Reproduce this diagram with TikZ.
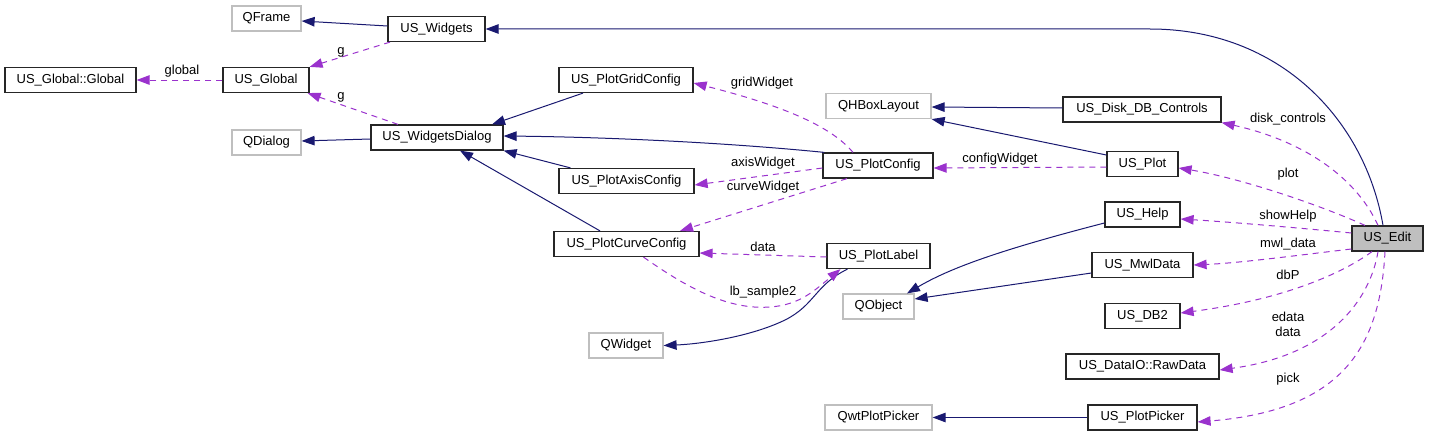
\documentclass[tikz,border=0pt]{standalone}
\usepackage{fontspec}
\setmainfont{Liberation Sans}
\usetikzlibrary{arrows.meta}
\definecolor{navy}{HTML}{191970}
\definecolor{orch}{HTML}{9A32CD}
\definecolor{gbd}{HTML}{BFBFBF}
\definecolor{efill}{HTML}{BFBFBF}
\tikzset{
  box/.style={draw=black!85, line width=1.2pt, minimum height=25pt, inner sep=0pt, font=\fontsize{13}{15}\selectfont, fill=white},
  gbox/.style={box, draw=gbd},
  inh/.style={draw=navy, line width=1pt, -{Triangle[length=13pt,width=9.5pt]}},
  mem/.style={draw=orch, line width=1pt, dash pattern=on 6pt off 5pt, -{Triangle[length=13pt,width=9.5pt,sep=0pt]}},
  lbl/.style={inner sep=0pt, font=\fontsize{13}{15}\selectfont}
}
\begin{document}
\begin{tikzpicture}[x=1pt,y=-1pt]
\useasboundingbox (0,0) rectangle (1429,436);
% nodes
\node[gbox, minimum width=69pt] (qframe) at (266.5,18.5) {QFrame};
\node[box, minimum width=97pt] (wdg) at (436.5,29) {US\_Widgets};
\node[box, minimum width=131pt] (gg) at (70.5,80) {US\_Global::Global};
\node[box, minimum width=86pt] (glob) at (266,80) {US\_Global};
\node[gbox, minimum width=69pt] (qdialog) at (266.5,142.5) {QDialog};
\node[box, minimum width=132pt] (wd) at (437,137.5) {US\_WidgetsDialog};
\node[box, minimum width=134pt] (pgc) at (626,80) {US\_PlotGridConfig};
\node[gbox, minimum width=105pt] (qhb) at (878.5,106) {QHBoxLayout};
\node[box, minimum width=110pt] (pc) at (878,165.5) {US\_PlotConfig};
\node[box, minimum width=135pt] (pac) at (626.5,181) {US\_PlotAxisConfig};
\node[box, minimum width=145pt] (pcc) at (626.5,244) {US\_PlotCurveConfig};
\node[box, minimum width=103pt] (pl) at (878.5,256) {US\_PlotLabel};
\node[gbox, minimum width=71pt] (qobject) at (878.5,306.5) {QObject};
\node[gbox, minimum width=74pt] (qwidget) at (626,345.5) {QWidget};
\node[gbox, minimum width=107pt] (qwt) at (878.5,417.5) {QwtPlotPicker};
\node[box, minimum width=158pt] (ddc) at (1142,109.5) {US\_Disk\_DB\_Controls};
\node[box, minimum width=71pt] (plot) at (1142.5,164) {US\_Plot};
\node[box, minimum width=75pt] (help) at (1142.5,214.5) {US\_Help};
\node[box, minimum width=71pt, fill=efill] (edit) at (1387.5,238.5) {US\_Edit};
\node[box, minimum width=101pt] (mwl) at (1142.5,265) {US\_MwlData};
\node[box, minimum width=75pt] (db2) at (1142.5,316) {US\_DB2};
\node[box, minimum width=153pt] (raw) at (1142.5,366.5) {US\_DataIO::RawData};
\node[box, minimum width=109pt] (ppk) at (1142.5,417.5) {US\_PlotPicker};
% inheritance edges
\draw[inh] ([yshift=3pt]wdg.west) -- ([yshift=-2.5pt]qframe.east);
\draw[inh] ([xshift=-4.5pt]edit.north) .. controls (1365,120) and (1280,29) .. (1150,29) -- (wdg.east);
\draw[inh] ([yshift=-1.5pt]wd.west) -- ([yshift=1.5pt]qdialog.east);
\draw[inh] ([xshift=-43pt]pgc.south) -- ([xshift=55pt]wd.north);
\draw[inh] ([xshift=2pt]pc.north west) .. controls (720,142) and (600,137) .. ([yshift=1.5pt]wd.east);
\draw[inh] ([xshift=-56pt]pac.north) -- (wd.south east);
\draw[inh] ([xshift=-26.5pt]pcc.north) -- ([xshift=23pt]wd.south);
\draw[inh] ([yshift=9pt]plot.west) -- (qhb.south east);
\draw[inh] ([yshift=1.5pt]ddc.west) -- ([yshift=-1pt]qhb.east);
\draw[inh] ([yshift=-8.5pt]help.west) .. controls (1000,250) and (950,268) .. ([xshift=28.5pt]qobject.north);
\draw[inh] ([yshift=-8pt]mwl.west) -- ([yshift=7.5pt]qobject.east);
\draw[inh] ([xshift=-31pt]pl.south) .. controls (815,285) and (815,305) .. (785,320) .. controls (750,337) and (700,344) .. (qwidget.east);
\draw[inh] (ppk.west) -- (qwt.east);
% member edges
\draw[mem] ([xshift=-46.5pt]wdg.south) -- (glob.north east);
\node[lbl] (lg1) at (341,52) {g};
\draw[mem] (glob.west) -- (gg.east);
\node[lbl] (lglobal) at (182,71) {global};
\draw[mem] ([xshift=-39pt]wd.north) -- ([xshift=-2pt]glob.south east);
\node[lbl] (lg2) at (341,97) {g};
\draw[mem] ([xshift=-25pt]pc.north) .. controls (830,125) and (780,105) .. ([yshift=-3pt]pgc.east);
\node[lbl] (lgrid) at (762,83) {gridWidget};
\draw[mem] ([yshift=-2.5pt]pc.west) -- ([yshift=-4pt]pac.east);
\node[lbl] (laxis) at (763,163) {axisWidget};
\draw[mem] ([xshift=-31pt]pc.south) -- ([xshift=53.5pt]pcc.north);
\node[lbl] (lcurve) at (763,187) {curveWidget};
\draw[mem] ([yshift=-1pt]pl.west) -- ([yshift=-9pt]pcc.east);
\node[lbl] (ldata) at (763,247) {data};
\draw[mem] ([xshift=17pt]pcc.south) .. controls (690,290) and (730,310) .. (770,307) .. controls (800,305) and (815,290) .. ([xshift=-38pt]pl.south);
\node[lbl] (llb) at (763,292) {lb\_sample2};
\draw[mem] ([yshift=-3pt]plot.west) -- ([yshift=-2.5pt]pc.east);
\node[lbl] (lconf) at (1000,159) {configWidget};
\draw[mem] ([xshift=-9.5pt]edit.north) .. controls (1355,175) and (1300,140) .. (ddc.south east);
\node[lbl] (ldisk) at (1288,119) {disk\_controls};
\draw[mem] ([xshift=-22.5pt]edit.north) .. controls (1320,205) and (1240,178) .. ([yshift=-4pt]plot.east);
\node[lbl] (lplot) at (1288,174) {plot};
\draw[mem] ([yshift=5.5pt]edit.west) .. controls (1300,228) and (1230,222) .. ([yshift=-4.5pt]help.east);
\node[lbl] (lhelp) at (1288,216) {showHelp};
\draw[mem] ([yshift=-10.5pt]edit.west) .. controls (1300,255) and (1240,263) .. (mwl.east);
\node[lbl] (lmwl) at (1288,244) {mwl\_data};
\draw[mem] ([xshift=-15.5pt]edit.south) .. controls (1340,275) and (1280,300) .. ([yshift=3pt]db2.east);
\node[lbl] (ldbp) at (1288,275) {dbP};
\draw[mem] ([xshift=-9.5pt]edit.south) .. controls (1370,300) and (1330,355) .. ([yshift=-3.5pt]raw.east);
\node[lbl] (ledata) at (1288,317) {edata};
\node[lbl] (ldata2) at (1288,332) {data};
\draw[mem] ([xshift=-2.5pt]edit.south) .. controls (1380,345) and (1345,410) .. ([yshift=-4.5pt]ppk.east);
\node[lbl] (lpick) at (1288,379) {pick};
\end{tikzpicture}
\end{document}
